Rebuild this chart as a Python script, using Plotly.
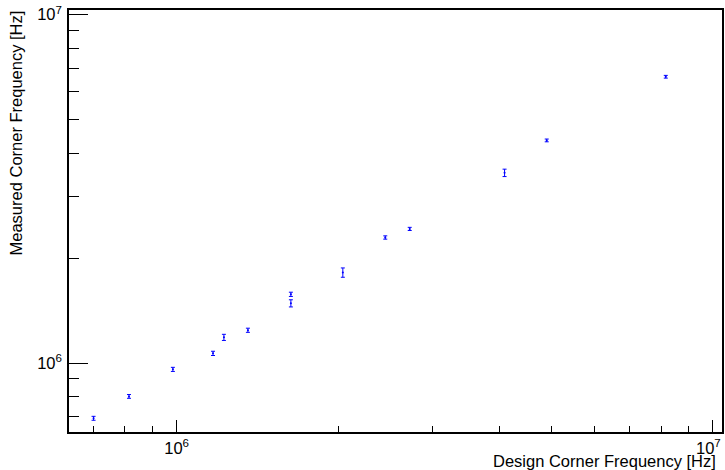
import plotly.graph_objects as go
import math

# Data
design_freq = [7.0e5, 8.15e5, 9.84e5, 1.169e6, 1.225e6, 1.358e6, 1.633e6, 1.633e6,
               2.041e6, 2.449e6, 2.72e6, 4.087e6, 4.898e6, 8.165e6]
measured_freq = [6.94e5, 8.02e5, 9.59e5, 1.066e6, 1.185e6, 1.242e6, 1.575e6, 1.484e6,
                 1.819e6, 2.293e6, 2.427e6, 3.516e6, 4.356e6, 6.636e6]
measured_err = [9e3, 1.0e4, 1.3e4, 1.5e4, 2.4e4, 1.7e4, 2.2e4, 3.5e4,
                5.6e4, 2.5e4, 2.5e4, 8.6e4, 4.0e4, 6.0e4]

major_vals = [1e6, 1e7]
major_text = ["10<sup>6</sup>", "10<sup>7</sup>"]
minor_vals = [m * 10**e for e in (5, 6) for m in range(2, 10)]

FONT = "Liberation Sans, Arial, sans-serif"

fig = go.Figure()
fig.add_trace(go.Scatter(
    x=design_freq, y=measured_freq, mode="markers",
    marker=dict(color="#0000ff", size=2),
    error_y=dict(type="data", array=measured_err, color="#0000ff", thickness=1, width=2),
    showlegend=False, hoverinfo="x+y",
))

axis_common = dict(
    type="log", showgrid=False, zeroline=False, automargin=False,
    showline=True, linecolor="black", linewidth=1.5, mirror=True,
    ticks="inside", tickcolor="black", tickwidth=1,
    tickmode="array", tickvals=major_vals,
    ticklabeloverflow="allow",
    tickfont=dict(family=FONT, size=16.5, color="black"),
)

fig.update_layout(
    width=725, height=470,
    margin=dict(l=69, r=3, t=10, b=38, autoexpand=False),
    paper_bgcolor="white", plot_bgcolor="white",
    font=dict(family=FONT, size=16.5, color="black"),
    xaxis=dict(axis_common, range=[5.7993, 7.0168], ticklen=12, ticklabelstandoff=0,
               ticktext=[major_text[0], ""],
               minor=dict(tickmode="array", tickvals=minor_vals, ticks="inside",
                          ticklen=6, tickcolor="black", tickwidth=1)),
    yaxis=dict(axis_common, range=[5.802, 7.0135], ticklen=19, ticklabelstandoff=2,
               ticktext=major_text,
               minor=dict(tickmode="array", tickvals=minor_vals, ticks="inside",
                          ticklen=10, tickcolor="black", tickwidth=1)),
    annotations=[
        # last x tick label, nudged left as in the reference so it stays on the page
        dict(text=major_text[1], xref="x", yref="paper",
             x=math.log10(major_vals[1]), y=-0.008, xanchor="center", yanchor="top",
             xshift=-4, showarrow=False,
             font=dict(family=FONT, size=16.5, color="black")),
        dict(text="Design Corner Frequency [Hz]", xref="paper", yref="paper",
             x=0.9939, y=-0.0687, xanchor="right", yanchor="middle",
             showarrow=False, font=dict(family=FONT, size=16.5, color="black")),
        dict(text="Measured Corner Frequency [Hz]", xref="paper", yref="paper",
             x=-0.0812, y=1.0047, xanchor="center", yanchor="top", textangle=-90,
             showarrow=False, font=dict(family=FONT, size=16.5, color="black")),
    ],
)

# remove the page's default body margin so the figure sits at the window's corner
fig.write_html("out.html", config={"displayModeBar": False},
               post_script="document.body.style.margin='0';")
